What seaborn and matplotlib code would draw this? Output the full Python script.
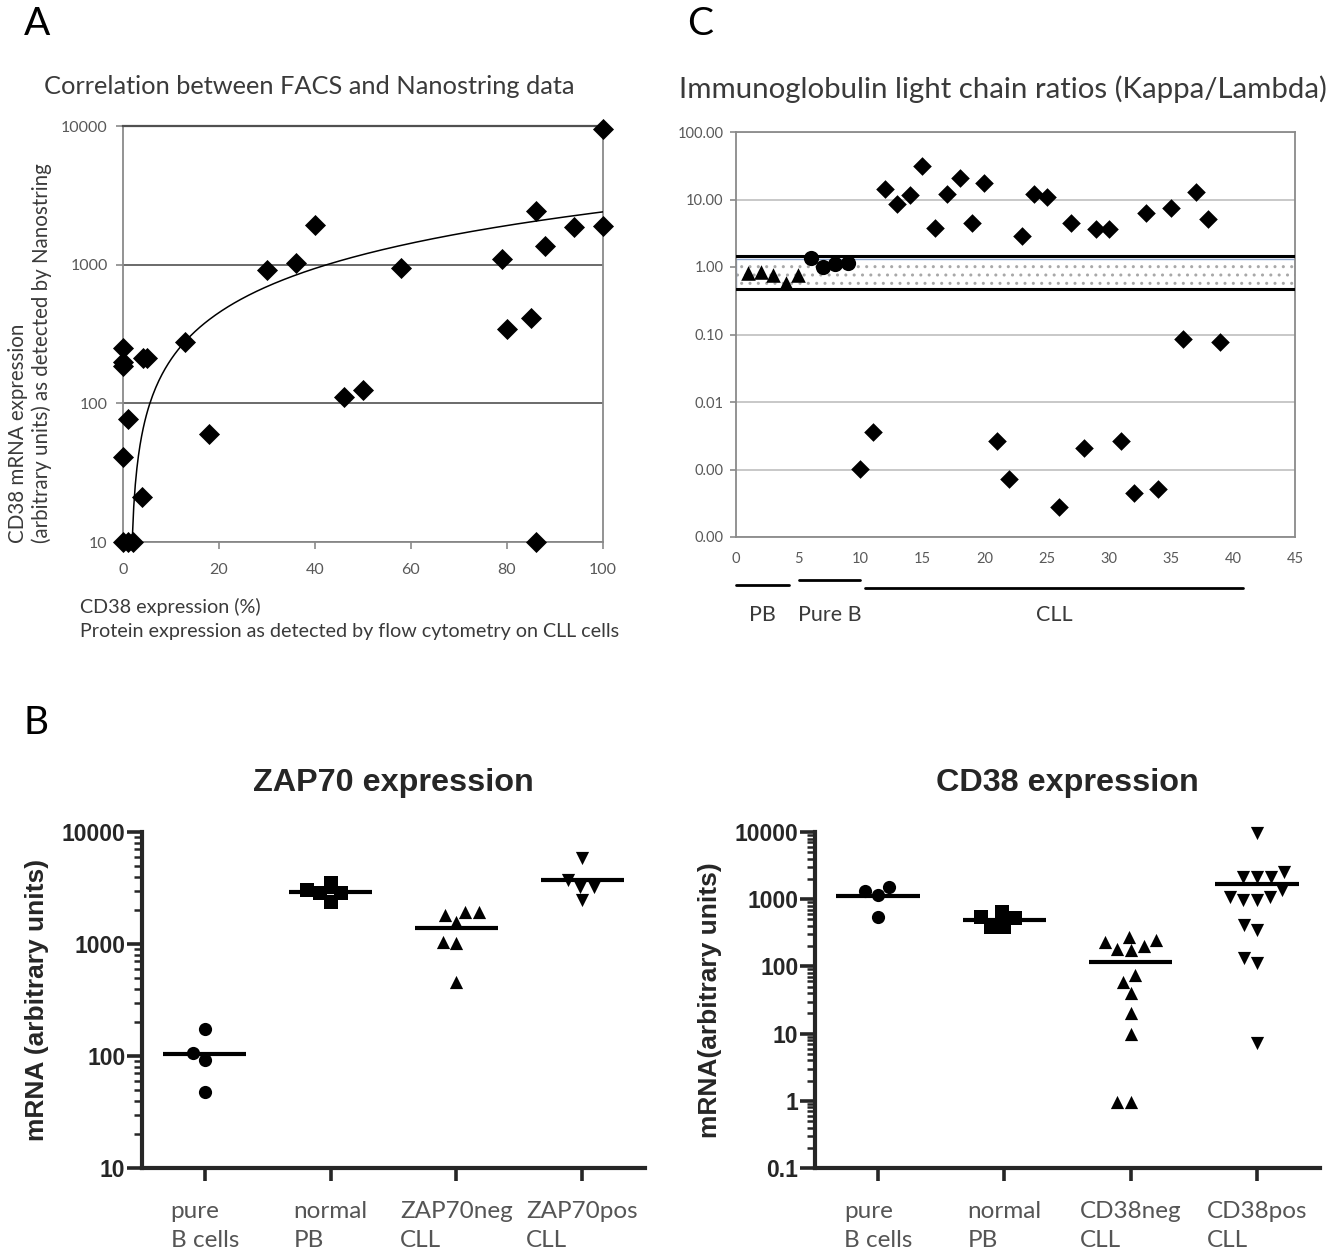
import numpy as np
import pandas as pd
import matplotlib
matplotlib.use('Agg')
from matplotlib import pyplot as plt
from matplotlib.transforms import blended_transform_factory
from matplotlib.ticker import FixedLocator, LogLocator, NullLocator, NullFormatter
import seaborn as sns

# ---- panel A: CD38 by FACS (%) vs CD38 mRNA by Nanostring
facs_pct = [0, 0, 0, 4.2, 5, 13, 1, 0, 18, 4, 0, 1, 2, 30, 36, 40, 46, 50, 58,
            79, 80, 85, 86, 88, 94, 100, 100, 86]
nano_cd38 = [251, 200, 185, 214, 214, 279, 77, 41, 60, 21, 10, 10, 10, 920, 1030,
             1940, 112, 125, 950, 1090, 345, 410, 2450, 1370, 1880, 1900, 9500, 10]
trend_slope = 24.4       # linear trendline
trend_intercept = -36.6

# ---- panel C: kappa/lambda ratios
pb_idx = [1, 2, 3, 4, 5]
pb_ratio = [0.81, 0.83, 0.76, 0.58, 0.76]
pureb_idx = [6, 7, 8, 9]
pureb_ratio = [1.36, 1.0, 1.11, 1.15]
cll_idx = list(range(10, 40))
cll_ratio = [0.00102, 0.0036, 14.3, 8.6, 11.7, 31, 3.8, 12, 21, 4.5, 17.5, 0.0026,
             0.00072, 2.9, 12, 11, 0.00028, 4.5, 0.0021, 3.66, 3.66, 0.0026,
             0.00045, 6.3, 0.00051, 7.5, 0.085, 12.9, 5.1, 0.078]
normal_low, normal_high = 0.47, 1.46
group_names = ['PB', 'Pure B', 'CLL']
group_start = [0, 5.1, 10.4]
group_end = [4.3, 10.0, 40.8]

# ---- panel B: ZAP70 / CD38 mRNA
zap_groups = ['pure\nB cells', 'normal\nPB', 'ZAP70neg\nCLL', 'ZAP70pos\nCLL']
zap_pureb = [174, 107, 92, 48]
zap_pb = [3510, 2850, 2370, 2850, 3030]
zap_neg = [1930, 1815, 1930, 1570, 1040, 1020, 460]
zap_pos = [5860, 3230, 2470, 3230, 3730]

cd38_groups = ['pure\nB cells', 'normal\nPB', 'CD38neg\nCLL', 'CD38pos\nCLL']
cd38_pureb = [1325, 1155, 1516, 543]
cd38_pb = [645, 543, 386, 386, 525]
cd38_neg = [201, 247, 175, 274, 181, 229, 74.5, 58.6, 40, 20.3, 10, 0.96, 0.96]
cd38_pos = [9500, 2140, 2140, 2140, 2540, 1080, 973, 973, 1080, 1370, 348, 413,
            133, 112, 7.2]
group_markers = ['o', 's', '^', 'v']

sns.set_style('ticks')
plt.rcParams['font.family'] = ['Lato', 'DejaVu Sans']
excel_gray = '#595959'
text_gray = '#3a3a3a'
prism_font = ['Liberation Sans', 'DejaVu Sans']

W, H = 1340, 1258
fig = plt.figure(figsize=(W / 100, H / 100), dpi=100)


def box(l, t, r, b):
    return [l / W, 1 - b / H, (r - l) / W, (b - t) / H]


# ================= panel A =================
axA = fig.add_axes(box(123, 126, 603, 542))
axA.set_yscale('log')
sns.scatterplot(x=facs_pct, y=nano_cd38, marker='D', s=115, color='black',
                linewidth=0, ax=axA, clip_on=False, zorder=5)
xs = np.linspace((10 - trend_intercept) / trend_slope, 100, 300)
axA.plot(xs, trend_slope * xs + trend_intercept, color='black', lw=1.1, zorder=4)
axA.set_xlim(0, 100)
axA.set_ylim(10, 10000)
axA.set_xticks(range(0, 101, 20))
axA.yaxis.set_major_locator(FixedLocator([10, 100, 1000, 10000]))
axA.set_yticklabels(['10', '100', '1000', '10000'])
axA.yaxis.set_minor_locator(NullLocator())
axA.yaxis.grid(True, color='#6a6a6a', lw=1.4)
for s in axA.spines.values():
    s.set_color('#8a8a8a')
    s.set_linewidth(1.3)
axA.spines['top'].set_color('#505050')
axA.spines['top'].set_linewidth(1.6)
axA.tick_params(axis='both', colors='#8a8a8a', labelcolor=excel_gray,
                labelsize=11.5, length=5, width=1.2, pad=6)
axA.tick_params(axis='x', pad=10)
axA.set_xlabel('')
axA.set_ylabel('')

fig.text(309 / W, 1 - 87 / H, 'Correlation between FACS and Nanostring data',
         ha='center', va='center', fontsize=18.3, color=text_gray)
fig.text(30 / W, 1 - 543 / H,
         'CD38 mRNA expression\n(arbitrary units) as detected by Nanostring',
         rotation=90, ha='center', va='bottom', multialignment='left',
         fontsize=14.8, color=text_gray, linespacing=1.15)
fig.text(80 / W, 1 - 598 / H,
         'CD38 expression (%)\nProtein expression as detected by flow cytometry on CLL cells',
         ha='left', va='top', fontsize=14.2, color=text_gray, linespacing=1.5)

# ================= panel C =================
axC = fig.add_axes(box(736, 132, 1295, 537))
axC.set_yscale('log')
axC.axhspan(normal_low, normal_high * 0.9, facecolor='white', edgecolor='#a8a8a8',
            hatch='..', lw=0, zorder=1)
axC.axhspan(normal_low, normal_high * 0.9, facecolor='none', edgecolor='#8ea6cf',
            lw=1.0, zorder=2)
axC.axhline(normal_high, color='black', lw=2.2, zorder=3)
axC.axhline(normal_low, color='black', lw=2.2, zorder=3)
sns.scatterplot(x=pb_idx, y=pb_ratio, marker='^', s=110, color='black',
                linewidth=0, ax=axC, zorder=5)
sns.scatterplot(x=pureb_idx, y=pureb_ratio, marker='o', s=120, color='black',
                linewidth=0, ax=axC, zorder=5)
sns.scatterplot(x=cll_idx, y=cll_ratio, marker='D', s=90, color='black',
                linewidth=0, ax=axC, zorder=5)
axC.set_xlim(0, 45)
axC.set_ylim(1e-4, 100)
axC.set_xticks(range(0, 46, 5))
axC.yaxis.set_major_locator(FixedLocator([1e-4, 1e-3, 1e-2, 1e-1, 1, 10, 100]))
axC.set_yticklabels(['0.00', '0.00', '0.01', '0.10', '1.00', '10.00', '100.00'])
axC.yaxis.set_minor_locator(NullLocator())
axC.yaxis.grid(True, color='#c4c4c4', lw=1.3, zorder=0)
axC.set_axisbelow(True)
for s in axC.spines.values():
    s.set_color('#8a8a8a')
    s.set_linewidth(1.3)
axC.tick_params(axis='y', colors='#8a8a8a', labelcolor=excel_gray,
                labelsize=10.5, length=4, width=1.2, pad=5)
axC.tick_params(axis='x', labelcolor=excel_gray, labelsize=10.5, length=0, pad=11)
axC.set_xlabel('')
axC.set_ylabel('')

trans = blended_transform_factory(axC.transData, axC.transAxes)
group_line_y = [-0.119, -0.106, -0.126]
for name, x0, x1, ly in zip(group_names, group_start, group_end, group_line_y):
    axC.plot([x0, x1], [ly, ly], color='black', lw=2, transform=trans, clip_on=False)
    axC.text((x0 + x1) / 2, -0.193, name, transform=trans, ha='center', va='center',
             fontsize=15.5, color=text_gray)

fig.text(1003 / W, 1 - 89 / H, 'Immunoglobulin light chain ratios (Kappa/Lambda)',
         ha='center', va='center', fontsize=21.2, color=text_gray)

# ================= panel B =================
def prism_panel(rect, groups, series, ylim, ticks, ticklabels, title, ylabel,
                title_x, label_x):
    ax = fig.add_axes(rect)
    ax.set_yscale('log')
    df = pd.DataFrame({
        'group': np.concatenate([[g] * len(v) for g, v in zip(groups, series)]),
        'value': np.concatenate(series),
    })
    for g, m in zip(groups, group_markers):
        sns.swarmplot(data=df[df['group'] == g], x='group', y='value', order=groups,
                      marker=m, color='black', size=9.5, linewidth=0, ax=ax,
                      clip_on=False, zorder=5)
    means = df.groupby('group', sort=False)['value'].mean()
    for i, g in enumerate(groups):
        ax.hlines(means[g], i - 0.33, i + 0.33, color='black', lw=3, zorder=4)
    ax.set_xlim(-0.5, 3.5)
    ax.set_ylim(*ylim)
    ax.yaxis.set_major_locator(FixedLocator(ticks))
    ax.set_yticklabels(ticklabels)
    ax.yaxis.set_minor_locator(LogLocator(base=10, subs=np.arange(2, 10)))
    ax.yaxis.set_minor_formatter(NullFormatter())
    ax.set_xticks(range(len(groups)))
    ax.set_xticklabels(groups, multialignment='left', linespacing=1.45)
    sns.despine(ax=ax)
    for s in ['left', 'bottom']:
        ax.spines[s].set_linewidth(3)
    ax.tick_params(axis='y', which='major', length=11, width=2.6, labelsize=16.5,
                   pad=1)
    ax.tick_params(axis='y', which='minor', length=6, width=1.8)
    ax.tick_params(axis='x', length=9, width=2.6, labelsize=17.5,
                   labelcolor='#555555', pad=15)
    for lab in ax.get_yticklabels():
        lab.set_fontweight('bold')
        lab.set_family(prism_font)
    ax.set_xlabel('')
    ax.set_ylabel(ylabel, fontsize=19, fontweight='bold', family=prism_font)
    ax.yaxis.set_label_coords(label_x, 0.5)
    fig.text(title_x / W, 1 - 783 / H, title, ha='center', va='center',
             fontsize=23.3, fontweight='bold', family=prism_font)
    return ax


prism_panel(box(142, 832, 645, 1168), zap_groups,
            [zap_pureb, zap_pb, zap_neg, zap_pos], (10, 10000),
            [10, 100, 1000, 10000], ['10', '100', '1000', '10000'],
            'ZAP70 expression', 'mRNA (arbitrary units)', 393, -0.185)
prism_panel(box(815, 832, 1320, 1168), cd38_groups,
            [cd38_pureb, cd38_pb, cd38_neg, cd38_pos], (0.1, 10000),
            [0.1, 1, 10, 100, 1000, 10000], ['0.1', '1', '10', '100', '1000', '10000'],
            'CD38 expression', 'mRNA(arbitrary units)', 1067, -0.185)

# panel letters
for letter, lx, ly in [('A', 37, 24), ('C', 700, 24), ('B', 36, 723)]:
    fig.text(lx / W, 1 - ly / H, letter, ha='center', va='center', fontsize=28,
             color='black')

fig.savefig('out.png', dpi=100)
